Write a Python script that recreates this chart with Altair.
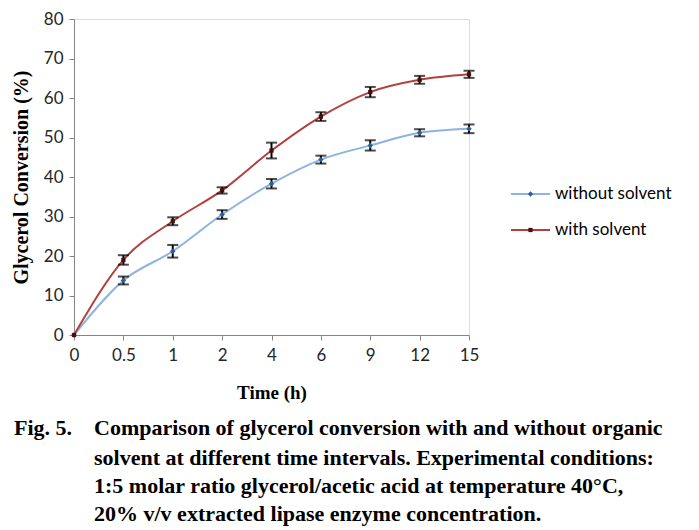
import altair as alt
import pandas as pd

times = ["0", "0.5", "1", "2", "4", "6", "9", "12", "15"]
without_vals = [0, 13.8, 21.2, 30.5, 38.3, 44.4, 48.0, 51.2, 52.2]
without_err = [0, 1.0, 1.6, 1.1, 1.2, 1.0, 1.3, 0.9, 1.1]
with_vals = [0, 19.0, 28.8, 36.6, 46.7, 55.3, 61.5, 64.6, 66.0]
with_err = [0, 1.2, 1.0, 0.8, 2.0, 1.1, 1.3, 1.0, 0.9]
series = ["without solvent", "with solvent"]
line_colors = ["#8DB3E2", "#B2403C"]
point_colors = ["#2F5E9E", "#4A0F0F"]

caption_head = "Fig. 5."
caption_lines = [
    "Comparison of glycerol conversion with and without organic",
    "solvent at different time intervals. Experimental conditions:",
    "1:5 molar ratio glycerol/acetic acid at temperature 40\u00b0C,",
    "20% v/v extracted lipase enzyme concentration.",
]

rows = []
for s, vals, errs in [(series[0], without_vals, without_err), (series[1], with_vals, with_err)]:
    for t, v, e in zip(times, vals, errs):
        rows.append({"time": t, "series": s, "value": v, "lo": v - e, "hi": v + e})
df = pd.DataFrame(rows)

W, H = 395, 316
x_scale = alt.Scale(type="point", padding=0)
x_axis = alt.Axis(title="Time (h)", labelAngle=0, labelFont="Lato", labelFontSize=17,
                  labelColor="#262626", labelPadding=7, tickSize=5, tickColor="#868686",
                  domainColor="#868686", titleFont="Liberation Serif", titleFontSize=19,
                  titleFontWeight="bold", titleColor="#000000", titleX=W / 2, titleY=57,
                  titleBaseline="middle", grid=False)
y_scale = alt.Scale(domain=[0, 80], nice=False)
y_axis = alt.Axis(title="Glycerol Conversion (%)", values=list(range(0, 81, 10)),
                  labelOverlap=False,
                  labelFont="Lato", labelFontSize=17, labelColor="#262626", labelPadding=6,
                  tickSize=5, tickColor="#868686", domainColor="#868686",
                  titleFont="Liberation Serif", titleFontSize=20, titleFontWeight="bold",
                  titleColor="#000000", titleAngle=270, titleX=-53, titleY=H / 2,
                  titleAlign="center", titleBaseline="middle", grid=False)

x_enc = alt.X("time:O", sort=times, scale=x_scale, axis=x_axis)


def yq(field):
    return alt.Y(field + ":Q", scale=y_scale, axis=y_axis)


color_line = alt.Color("series:N", scale=alt.Scale(domain=series, range=line_colors), legend=None)
color_pt = alt.Color("series:N", scale=alt.Scale(domain=series, range=point_colors), legend=None)

base = alt.Chart(df)
lines = base.mark_line(interpolate="monotone", strokeWidth=2).encode(x=x_enc, y=yq("value"), color=color_line)
pts_without = alt.Chart(df[df.series == series[0]]).mark_point(
    shape="diamond", filled=True, size=30, opacity=1).encode(x=x_enc, y=yq("value"), color=color_pt)
pts_with = alt.Chart(df[df.series == series[1]]).mark_point(
    shape="square", filled=True, size=18, opacity=1).encode(x=x_enc, y=yq("value"), color=color_pt)

err_df = df[df.time != "0"]
err_base = alt.Chart(err_df)
err_rule = err_base.mark_rule(color="#000000", strokeWidth=2).encode(
    x=x_enc, y=yq("lo"), y2="hi:Q")
err_lo = err_base.mark_tick(color="#000000", thickness=2, size=11, orient="horizontal").encode(
    x=x_enc, y=yq("lo"))
err_hi = err_base.mark_tick(color="#000000", thickness=2, size=11, orient="horizontal").encode(
    x=x_enc, y=yq("hi"))

# manual legend
leg = []
leg_y = [175, 211]
shapes = ["diamond", "square"]
sizes = [30, 18]
for i in range(2):
    leg.append(alt.Chart(df.head(1)).mark_rule(color=line_colors[i], strokeWidth=2).encode(
        x=alt.value(437), x2=alt.value(476), y=alt.value(leg_y[i])))
    leg.append(alt.Chart(df.head(1)).mark_point(shape=shapes[i], filled=True, size=sizes[i],
                                                 color=point_colors[i], opacity=1).encode(
        x=alt.value(456.5), y=alt.value(leg_y[i])))
    leg.append(alt.Chart(pd.DataFrame({"t": [series[i]]})).mark_text(
        align="left", baseline="middle", font="Lato", fontSize=17, color="#000000").encode(
        x=alt.value(481), y=alt.value(leg_y[i]), text="t:N"))

# caption
cap = [alt.Chart(pd.DataFrame({"t": [caption_head]})).mark_text(
    align="left", baseline="middle", font="Liberation Serif", fontSize=22, fontWeight="bold",
    color="#000000").encode(x=alt.value(-60), y=alt.value(409), text="t:N")]
cap_y = [409, 439, 467, 495]
for line, yy in zip(caption_lines, cap_y):
    cap.append(alt.Chart(pd.DataFrame({"t": [line]})).mark_text(
        align="left", baseline="middle", font="Liberation Serif", fontSize=22, fontWeight="bold",
        color="#000000").encode(x=alt.value(20), y=alt.value(yy), text="t:N"))

chart = alt.layer(lines, err_rule, err_lo, err_hi, pts_without, pts_with, *leg, *cap).resolve_scale(
    color="independent").properties(
    width=W, height=H, autosize="none",
    padding={"left": 66, "top": 11, "right": 222, "bottom": 195},
).configure_view(stroke=None).configure(background="#ffffff")

chart.save("out.html", embed_options={"renderer": "svg", "actions": False})
